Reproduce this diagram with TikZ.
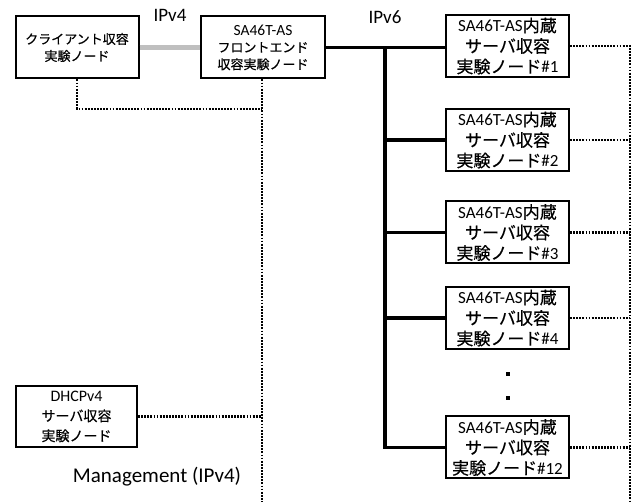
\documentclass[tikz,border=0pt]{standalone}
\usepackage{fontspec}
\setmainfont{Carlito}
\newfontfamily\jpfont[FakeBold=0.4]{Noto Sans CJK JP}
\newcommand{\jp}[1]{{\jpfont #1}}
\begin{document}
\begin{tikzpicture}[
	x=1pt, y=-1pt,
	box/.style={draw, line width=2pt, align=center, inner sep=0pt, minimum height=62pt},
	srv/.style={box, minimum width=123pt, font=\fontsize{17}{20.5}\selectfont},
	v4link/.style={line width=4.5pt, gray!50},
	v6link/.style={line width=3.3pt},
	mgmt/.style={line width=2.2pt, dash pattern=on 1.8pt off 1.3pt},
	lbl/.style={font=\fontsize{19}{22}\selectfont}
	]
	\useasboundingbox (0,0) rectangle (633,502);
	% nodes on the IPv4 side
	\node[box, minimum width=123pt, font=\fontsize{13}{17}\selectfont] (cl) at (77,47.5) {\jp{クライアント収容}\\\jp{実験ノード}};
	\node[box, minimum width=124pt, font=\fontsize{13}{17}\selectfont] (fe) at (263,47.5) {{\fontsize{15.5}{17}\selectfont SA46T-AS}\\\jp{フロントエンド}\\\jp{収容実験ノード}};
	\node[box, minimum width=121pt, minimum height=61pt, font=\fontsize{14}{20}\selectfont] (dhcp) at (76.5,416.5) {{\fontsize{16}{20}\selectfont DHCPv4}\\\jp{サーバ収容}\\\jp{実験ノード}};
	% server nodes
	\foreach \i/\y/\n in {1/46/1, 2/140/2, 3/232.5/3, 4/318/4, 5/447.5/12}
		\node[srv] (s\i) at (507.5,\y) {SA46T-AS\jp{内蔵}\\\jp{サーバ収容}\\\jp{実験ノード}\#\n};
	\node[fill, inner sep=0pt, minimum size=3.5pt] (vd1) at (508,374) {};
	\node[fill, inner sep=0pt, minimum size=3.5pt] (vd2) at (508,398) {};
	% labels
	\node[lbl] (l4) at (170,15) {IPv4};
	\node[lbl] (l6) at (385,17) {IPv6};
	\node[lbl, font=\fontsize{21}{24}\selectfont] (lm) at (157,477) {Management (IPv4)};
	% links
	\draw[v4link] (cl.east) -- (fe.west);
	\coordinate (trunk) at (385,47);
	\draw[v6link] (fe.east) -- (fe.east -| s1.west);
	\draw[v6link] (trunk) |- (s5.west);
	\foreach \i in {2,3,4}
		\draw[v6link] (trunk |- s\i.west) -- (s\i.west);
	% management network
	\coordinate (mbus) at (262,502);
	\coordinate (mright) at (630,502);
	\coordinate (cjoin) at (77,109);
	\draw[mgmt] (fe.south -| mbus) -- (mbus);
	\draw[mgmt] (cl.south) -- (cjoin) -- (cjoin -| mbus);
	\draw[mgmt] (dhcp.east) -- (dhcp.east -| mbus);
	\draw[mgmt] (s1.east) -- (s1.east -| mright) -- (mright);
	\foreach \i in {2,3,4,5}
		\draw[mgmt] (s\i.east) -- (s\i.east -| mright);
\end{tikzpicture}
\end{document}
